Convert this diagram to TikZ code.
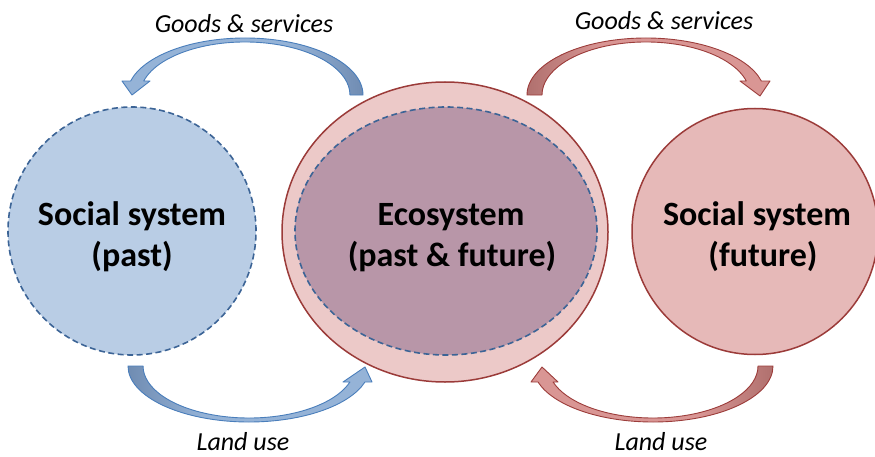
\documentclass[tikz,border=0pt]{standalone}
\usepackage{fontspec}
\setmainfont{Carlito}
\definecolor{pastfill}{HTML}{B9CDE5}
\definecolor{pastline}{HTML}{3C6496}
\definecolor{ecoout}{HTML}{ECC9C8}
\definecolor{ecoin}{HTML}{B896A8}
\definecolor{redline}{HTML}{9B3B39}
\definecolor{futfill}{HTML}{E6B9B8}
\definecolor{blight}{HTML}{95B3D7}
\definecolor{bdark}{HTML}{708CB2}
\definecolor{bline}{HTML}{4A7EBB}
\definecolor{rlight}{HTML}{D99694}
\definecolor{rdark}{HTML}{B0706E}
\definecolor{rline}{HTML}{9C3D3B}
\tikzset{
  dashline/.style={line width=1.6pt, dash pattern=on 6pt off 3.5pt},
  solidline/.style={line width=1.5pt},
  bluearrow/.style={fill=blight},
  redarrow/.style={fill=rlight},
  blueedge/.style={draw=bline, line width=0.9pt, line join=round},
  rededge/.style={draw=rline, line width=0.9pt, line join=round},
  biglabel/.style={font=\fontsize{34}{40}\selectfont\bfseries, anchor=base, inner sep=0pt},
  flowlabel/.style={font=\fontsize{26}{31}\selectfont\itshape, anchor=base, inner sep=0pt}
}
\begin{document}
\begin{tikzpicture}[x=1pt,y=1pt]
\useasboundingbox (0,0) rectangle (875,456);

% ---- top-left blue arrow (Goods & services, to past) ----
\path[bluearrow] (363,361) arc[start angle=0, end angle=165.8, x radius=118, y radius=57]
  -- (122,375) -- (132,361) -- (150,375) -- (143.7,375)
  arc[start angle=164.7, end angle=0, x radius=105, y radius=53] -- cycle;
\path[left color=blight, right color=bdark] (363,361) arc[start angle=0, end angle=65, x radius=118, y radius=57]
  -- (289.4,409.0) arc[start angle=65, end angle=0, x radius=105, y radius=53] -- cycle;
\path[blueedge] (363,361) arc[start angle=0, end angle=165.8, x radius=118, y radius=57]
  -- (122,375) -- (132,361) -- (150,375) -- (143.7,375)
  arc[start angle=164.7, end angle=0, x radius=105, y radius=53] -- cycle;

% ---- top-right red arrow (Goods & services, to future) ----
\path[redarrow] (527,361) arc[start angle=180, end angle=14.2, x radius=119, y radius=57]
  -- (770,375) -- (760,360) -- (740,375) -- (746.3,375)
  arc[start angle=15.3, end angle=180, x radius=104, y radius=53] -- cycle;
\path[left color=rdark, right color=rlight] (527,361) arc[start angle=180, end angle=115, x radius=119, y radius=57]
  -- (602.05,409.03) arc[start angle=115, end angle=180, x radius=104, y radius=53] -- cycle;
\path[rededge] (527,361) arc[start angle=180, end angle=14.2, x radius=119, y radius=57]
  -- (770,375) -- (760,360) -- (740,375) -- (746.3,375)
  arc[start angle=15.3, end angle=180, x radius=104, y radius=53] -- cycle;

% ---- bottom-left blue arrow (Land use, past to ecosystem) ----
\path[bluearrow] (128,90) arc[start angle=180, end angle=343.4, x radius=121, y radius=56]
  -- (372,74) -- (365,89) -- (343,74) -- (349.9,74)
  arc[start angle=342.08, end angle=180, x radius=106, y radius=52] -- cycle;
\path[left color=bdark, right color=blight] (128,90) arc[start angle=180, end angle=245, x radius=121, y radius=56]
  -- (204.2,42.87) arc[start angle=245, end angle=180, x radius=106, y radius=52] -- cycle;
\path[blueedge] (128,90) arc[start angle=180, end angle=343.4, x radius=121, y radius=56]
  -- (372,74) -- (365,89) -- (343,74) -- (349.9,74)
  arc[start angle=342.08, end angle=180, x radius=106, y radius=52] -- cycle;

% ---- bottom-right red arrow (Land use, future to ecosystem) ----
\path[redarrow] (773,90) arc[start angle=360, end angle=196.6, x radius=120, y radius=56]
  -- (531,74) -- (542,89) -- (558,74) -- (553.1,74)
  arc[start angle=197.92, end angle=360, x radius=105, y radius=52] -- cycle;
\path[left color=rlight, right color=rdark] (773,90) arc[start angle=360, end angle=295, x radius=120, y radius=56]
  -- (697.4,42.87) arc[start angle=295, end angle=360, x radius=105, y radius=52] -- cycle;
\path[rededge] (773,90) arc[start angle=360, end angle=196.6, x radius=120, y radius=56]
  -- (531,74) -- (542,89) -- (558,74) -- (553.1,74)
  arc[start angle=197.92, end angle=360, x radius=105, y radius=52] -- cycle;

% ---- circles ----
\draw[dashline, draw=pastline, fill=pastfill] (132,225) circle[radius=124];
\draw[solidline, draw=redline, fill=ecoout] (445,224) ellipse[x radius=163, y radius=150];
\draw[dashline, draw=pastline, fill=ecoin] (446,225) ellipse[x radius=151, y radius=124];
\draw[solidline, draw=redline, fill=futfill] (755,224.5) circle[radius=123];

% ---- labels ----
\node[biglabel] (past1) at (132,231) {Social system};
\node[biglabel] (past2) at (132,190) {(past)};
\node[biglabel] (eco1) at (451,231) {Ecosystem};
\node[biglabel] (eco2) at (452,190) {(past \& future)};
\node[biglabel] (fut1) at (757,231) {Social system};
\node[biglabel] (fut2) at (763,190) {(future)};

\node[flowlabel] (gsl) at (244,423) {Goods \& services};
\node[flowlabel] (gsr) at (664,426) {Goods \& services};
\node[flowlabel] (lul) at (243,5.5) {Land use};
\node[flowlabel] (lur) at (661,5.5) {Land use};
\end{tikzpicture}
\end{document}
